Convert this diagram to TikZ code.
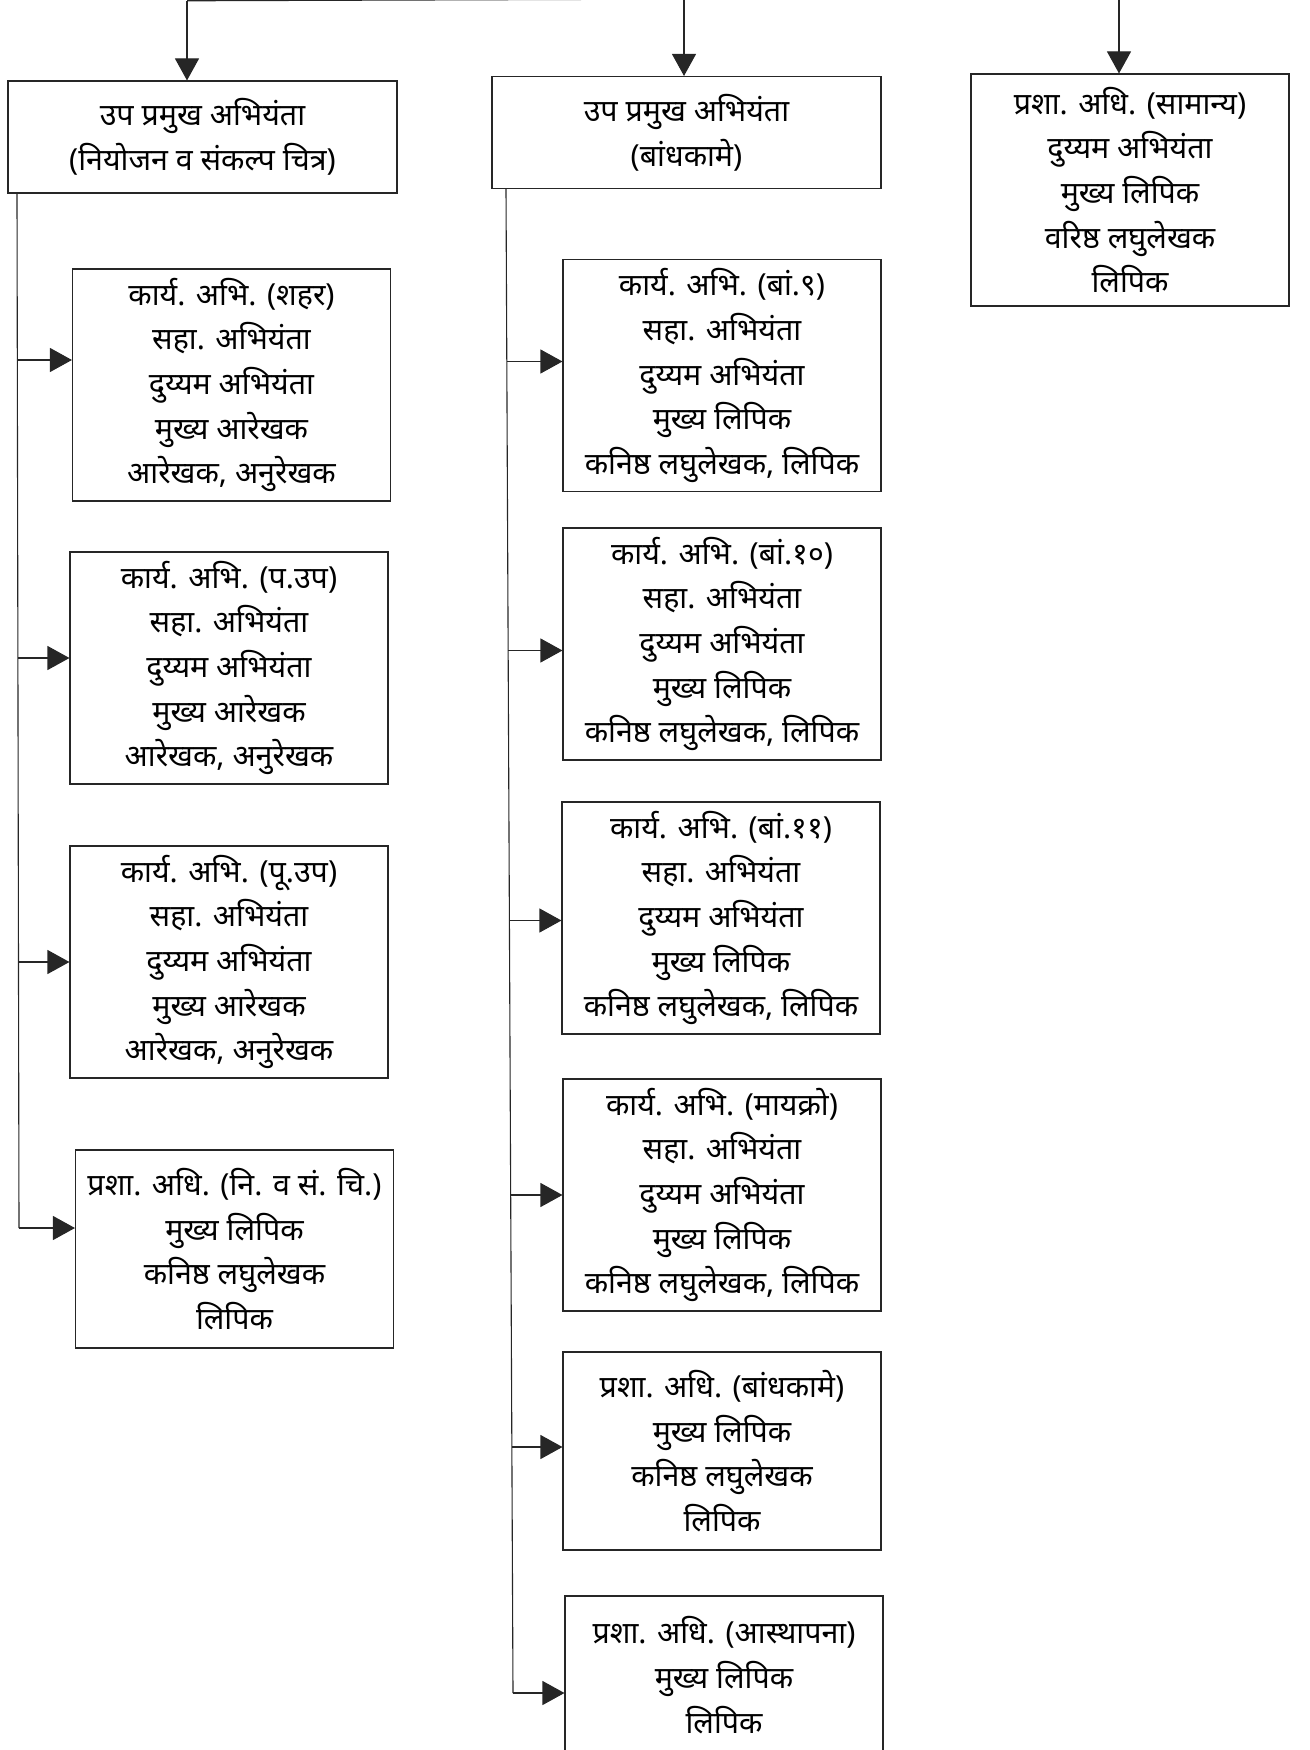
\documentclass[tikz,border=0pt]{standalone}
\usepackage{fontspec}
\newfontfamily\devfont[Script=Devanagari]{Noto Sans}
\usetikzlibrary{positioning,calc,arrows.meta}
\tikzset{font=\devfont\fontsize{15.2pt}{22.3pt}\selectfont}

\begin{document}
\begin{tikzpicture}[x=0.5pt, y=-0.5pt,
	line/.style={draw=black!85, line width=0.55pt},
	conn/.style={line, -{Triangle[length=11pt,width=12pt]}},
	office/.style={line, align=center, inner sep=0pt, minimum width=159pt, minimum height=116pt},
	head/.style={office, minimum width=194.5pt, minimum height=56pt},
	office4/.style={office, minimum height=99pt},
	office3/.style={office, minimum height=79pt}]
	\clip (0,0) rectangle (1310,1750);

	% heads
	\node[head] (dpl) at (202.5,137) {उप प्रमुख अभियंता\\(नियोजन व संकल्प चित्र)};
	\node[head] (dcn) at (686.5,132.5) {उप प्रमुख अभियंता\\(बांधकामे)};
	\node[office] (gen) at (1130,190) {प्रशा. अधि. (सामान्य)\\दुय्यम अभियंता\\मुख्य लिपिक\\वरिष्ठ लघुलेखक\\लिपिक};

	% planning branch
	\node[office] (city) at (231.5,385) {कार्य. अभि. (शहर)\\सहा. अभियंता\\दुय्यम अभियंता\\मुख्य आरेखक\\आरेखक, अनुरेखक};
	\node[office] (west) at (229,668) {कार्य. अभि. (प.उप)\\सहा. अभियंता\\दुय्यम अभियंता\\मुख्य आरेखक\\आरेखक, अनुरेखक};
	\node[office] (east) at (229,962) {कार्य. अभि. (पू.उप)\\सहा. अभियंता\\दुय्यम अभियंता\\मुख्य आरेखक\\आरेखक, अनुरेखक};
	\node[office4] (pladm) at (234.5,1249) {प्रशा. अधि. (नि. व सं. चि.)\\मुख्य लिपिक\\कनिष्ठ लघुलेखक\\लिपिक};

	% construction branch
	\node[office] (b9) at (722,375.5) {कार्य. अभि. (बां.९)\\सहा. अभियंता\\दुय्यम अभियंता\\मुख्य लिपिक\\कनिष्ठ लघुलेखक, लिपिक};
	\node[office] (b10) at (722,644) {कार्य. अभि. (बां.१०)\\सहा. अभियंता\\दुय्यम अभियंता\\मुख्य लिपिक\\कनिष्ठ लघुलेखक, लिपिक};
	\node[office] (b11) at (721,918) {कार्य. अभि. (बां.११)\\सहा. अभियंता\\दुय्यम अभियंता\\मुख्य लिपिक\\कनिष्ठ लघुलेखक, लिपिक};
	\node[office] (micro) at (722,1195) {कार्य. अभि. (मायक्रो)\\सहा. अभियंता\\दुय्यम अभियंता\\मुख्य लिपिक\\कनिष्ठ लघुलेखक, लिपिक};
	\node[office4] (cnadm) at (722,1451) {प्रशा. अधि. (बांधकामे)\\मुख्य लिपिक\\कनिष्ठ लघुलेखक\\लिपिक};
	\node[office3] (estab) at (724,1675) {प्रशा. अधि. (आस्थापना)\\मुख्य लिपिक\\लिपिक};

	% top feeds
	\coordinate (tl) at (187,0.8);
	\coordinate (tm) at (684,0);
	\coordinate (hub) at (684,-0.9);
	\coordinate (tr) at (1119,0);
	\draw[line] (tl) -- (hub);
	\draw[conn] (tl) -- (tl |- dpl.north);
	\draw[conn] (tm) -- (tm |- dcn.north);
	\draw[conn] (tr) -- (tr |- gen.north);

	% planning trunk
	\coordinate (lt0) at (17,193);
	\coordinate (lt1) at (17.5,360);
	\coordinate (lt2) at (18,658);
	\coordinate (lt3) at (18.5,962);
	\coordinate (lt4) at (19,1228);
	\draw[line] (lt0) -- (lt4);
	\draw[conn] (lt1) -- (lt1 -| city.west);
	\draw[conn] (lt2) -- (lt2 -| west.west);
	\draw[conn] (lt3) -- (lt3 -| east.west);
	\draw[conn] (lt4) -- (lt4 -| pladm.west);

	% construction trunk
	\coordinate (mt0) at (506,189);
	\coordinate (mt1) at (507,361.5);
	\coordinate (mt2) at (508,650.5);
	\coordinate (mt3) at (510,920.5);
	\coordinate (mt4) at (511,1195);
	\coordinate (mt5) at (512,1447);
	\coordinate (mt6) at (513,1693);
	\draw[line] (mt0) -- (mt6);
	\draw[conn] (mt1) -- (mt1 -| b9.west);
	\draw[conn] (mt2) -- (mt2 -| b10.west);
	\draw[conn] (mt3) -- (mt3 -| b11.west);
	\draw[conn] (mt4) -- (mt4 -| micro.west);
	\draw[conn] (mt5) -- (mt5 -| cnadm.west);
	\draw[conn] (mt6) -- (mt6 -| estab.west);
\end{tikzpicture}
\end{document}
